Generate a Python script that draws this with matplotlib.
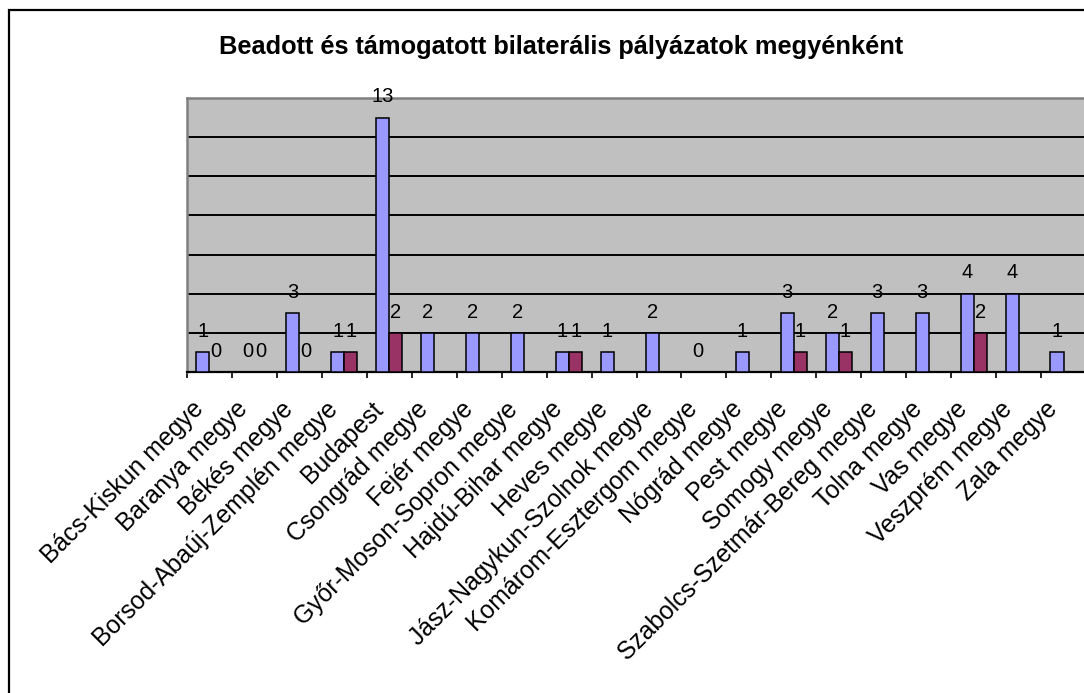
import numpy as np
import matplotlib
matplotlib.use("Agg")
import matplotlib.pyplot as plt
from matplotlib.patches import Rectangle
from matplotlib.transforms import ScaledTranslation

plt.rcParams['font.family'] = ['Liberation Sans', 'DejaVu Sans']

categories = ["Bács-Kiskun megye", "Baranya megye", "Békés megye",
              "Borsod-Abaúj-Zemplén megye", "Budapest", "Csongrád megye",
              "Fejér megye", "Győr-Moson-Sopron megye", "Hajdú-Bihar megye",
              "Heves megye", "Jász-Nagykun-Szolnok megye",
              "Komárom-Esztergom megye", "Nógrád megye", "Pest megye",
              "Somogy megye", "Szabolcs-Szetmár-Bereg megye", "Tolna megye",
              "Vas megye", "Veszprém megye", "Zala megye"]
beadott = [1, 0, 3, 1, 13, 2, 2, 2, 1, 1, 2, 0, 1, 3, 2, 3, 3, 4, 4, 1]
tamogatott = [0, 0, 0, 1, 2, np.nan, np.nan, np.nan, 1, np.nan, np.nan,
              np.nan, np.nan, 1, 1, np.nan, np.nan, 2, np.nan, np.nan]
title = "Beadott és támogatott bilaterális pályázatok megyénként"

W, H = 1084, 693
fig = plt.figure(figsize=(W / 100, H / 100), dpi=100)
fig.patch.set_facecolor("white")

# outer chart border
fig.patches.append(Rectangle((8.5 / W, -0.1), 1.2, 1 - 10 / H + 0.1,
                             transform=fig.transFigure, fill=False,
                             edgecolor="black", linewidth=1.6))

left, right, top, bottom = 187, 1086, 98, 372
ax = fig.add_axes([left / W, 1 - bottom / H, (right - left) / W, (bottom - top) / H])
ax.set_facecolor("#C0C0C0")

x = np.arange(len(categories))
bw = 0.29
ax.bar(x - bw / 2, beadott, bw, color="#9999FF", edgecolor="black",
       linewidth=1.1, zorder=3)
ax.bar(x + bw / 2, tamogatott, bw, color="#993366", edgecolor="black",
       linewidth=1.1, zorder=3)

for xi, v in zip(x - bw / 2, beadott):
    ax.annotate(f"{v:g}", (xi, v), xytext=(0, 15.0), textcoords="offset points",
                ha="center", va="center", fontsize=14.5, zorder=4)
for xi, v in zip(x + bw / 2, tamogatott):
    if not np.isnan(v):
        ax.annotate(f"{v:g}", (xi, v), xytext=(0, 15.0), textcoords="offset points",
                    ha="center", va="center", fontsize=14.5, zorder=4)

ax.set_xlim(-0.5, len(categories) - 0.5)
ax.set_ylim(0, 14)
ax.set_yticks([2, 4, 6, 8, 10, 12])
ax.yaxis.grid(True, color="black", linewidth=1.4, zorder=1)
ax.tick_params(axis="y", left=False, labelleft=False)

ax.set_xticks(np.arange(len(categories) + 1) - 0.5, minor=True)
ax.set_xticks(x)
ax.set_xticklabels(categories, rotation=45, ha="right", va="center",
                   rotation_mode="anchor", fontsize=17.8)
ax.tick_params(axis="x", which="major", length=0, pad=27)
ax.tick_params(axis="x", which="minor", length=4.5, width=1.2, color="black",
               direction="out")
shift = ScaledTranslation(-10 / 100, 4 / 100, fig.dpi_scale_trans)
for lab in ax.get_xticklabels():
    lab.set_transform(lab.get_transform() + shift)

for s in ["top", "left", "right"]:
    ax.spines[s].set_color("#808080")
    ax.spines[s].set_linewidth(1.8)
ax.spines["bottom"].set_color("black")
ax.spines["bottom"].set_linewidth(1.6)

fig.text(561 / W, 1 - 47 / H, title, ha="center", va="center",
         fontsize=18.3, fontweight="bold")

fig.savefig("out.png", dpi=100)
